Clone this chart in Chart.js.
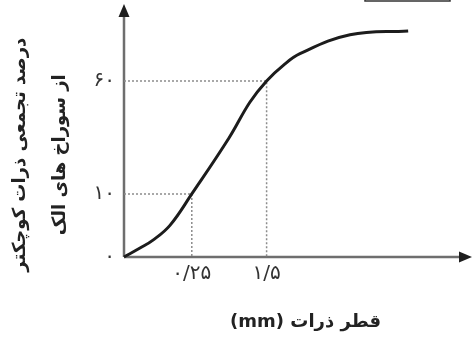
<!DOCTYPE html>
<html>
<head>
<meta charset="utf-8">
<script src="https://cdn.jsdelivr.net/npm/chart.js@4/dist/chart.umd.min.js"></script>
<style>
  html, body { margin: 0; padding: 0; background: #fff; }
  canvas { display: block; }
</style>
</head>
<body>
<canvas id="chart" width="472" height="341" dir="rtl"></canvas>
<script>
// ===== DADOS =====
const diametros = [0, 0.0077, 0.0323, 0.098, 0.25, 0.717, 1.11, 1.5, 1.95, 2.49, 4.55, 7.9];
const percentuais = [0, 0.33, 1.0, 3.0, 10, 30.3, 47.9, 60, 69.4, 77.1, 90, 92.8];

const xTicks = [0.25, 1.5];
const xTickLabels = ['۰/۲۵', '۱/۵'];
const yTicks = [0, 10, 60];
const yTickLabels = ['۰', '۱۰', '۶۰'];

// linhas de referencia (pontilhadas)
const refX = [0.25, 1.5];
const refY = [10, 60];

// espacos extras so para deslocar o titulo
const xTitulo = 'قطر ذرات (mm)    ';
const yTitulo = ['     درصد تجمعی ذرات کوچکتر', '     از سوراخ های الک'];

// ===== ESCALA (potencia) =====
class PowerScale extends Chart.LinearScale {
  getPixelForValue(value) {
    if (value === null || value === undefined || isNaN(value)) return NaN;
    const e = this.options.exponent || 1;
    const lo = Math.pow(this.min, e), hi = Math.pow(this.max, e);
    return this.getPixelForDecimal((Math.pow(Math.max(value, 0), e) - lo) / (hi - lo));
  }
  getValueForPixel(pixel) {
    const e = this.options.exponent || 1;
    const lo = Math.pow(this.min, e), hi = Math.pow(this.max, e);
    return Math.pow(lo + this.getDecimalForPixel(pixel) * (hi - lo), 1 / e);
  }
}
PowerScale.id = 'power';
PowerScale.defaults = Chart.LinearScale.defaults;
Chart.register(PowerScale);

// ===== EIXOS COM SETA =====
const eixosPlugin = {
  id: 'eixos',
  beforeDatasetsDraw(chart) {
    const { ctx, chartArea: a } = chart;
    ctx.save();
    ctx.strokeStyle = '#6e6e6e';
    ctx.fillStyle = '#1e1e1e';
    ctx.lineWidth = 2.5;
    ctx.beginPath();
    ctx.moveTo(a.left, a.bottom);
    ctx.lineTo(a.left, 14);
    ctx.moveTo(a.left, a.bottom);
    ctx.lineTo(463, a.bottom);
    ctx.stroke();
    // seta vertical
    ctx.beginPath();
    ctx.moveTo(a.left, 4);
    ctx.lineTo(a.left - 5.5, 17);
    ctx.lineTo(a.left + 5.5, 17);
    ctx.closePath();
    ctx.fill();
    // seta horizontal
    ctx.beginPath();
    ctx.moveTo(472, a.bottom);
    ctx.lineTo(459, a.bottom - 5.5);
    ctx.lineTo(459, a.bottom + 5.5);
    ctx.closePath();
    ctx.fill();
    // borda cortada no topo
    ctx.strokeStyle = '#333';
    ctx.lineWidth = 1.5;
    ctx.strokeRect(365, -20, 85, 21);
    ctx.restore();
  }
};

const refDatasets = refX.map((rx, i) => ({
  data: [{ x: 0, y: refY[i] }, { x: rx, y: refY[i] }, { x: rx, y: 0 }],
  borderColor: '#8c8c8c',
  borderWidth: 1.5,
  borderDash: [2, 2],
  pointRadius: 0,
  tension: 0,
  fill: false
}));

new Chart(document.getElementById('chart'), {
  type: 'line',
  data: {
    datasets: [
      {
        data: diametros.map((d, i) => ({ x: d, y: percentuais[i] })),
        borderColor: '#1c1c1c',
        borderWidth: 3,
        pointRadius: 0,
        tension: 0.4,
        fill: false,
        clip: false
      },
      ...refDatasets
    ]
  },
  options: {
    responsive: false,
    animation: false,
    devicePixelRatio: 1,
    layout: { padding: { top: 19, right: 10, left: 0, bottom: 0 } },
    plugins: { legend: { display: false }, tooltip: { enabled: false } },
    scales: {
      x: {
        type: 'power',
        exponent: 0.415,
        min: 0,
        max: 12,
        grid: { display: false, drawTicks: false },
        border: { display: false },
        afterBuildTicks: s => { s.ticks = xTicks.map(v => ({ value: v })); },
        afterFit: s => { s.height = 84; },
        ticks: {
          autoSkip: false,
          maxRotation: 0,
          padding: 5,
          color: '#333',
          font: { family: 'DejaVu Sans', size: 20 },
          callback: (v, i) => xTickLabels[i]
        },
        title: {
          display: true,
          text: xTitulo,
          color: '#222',
          font: { family: 'DejaVu Sans', size: 18, weight: 'bold' },
          padding: { top: 0, bottom: 8 }
        }
      },
      y: {
        type: 'power',
        exponent: 0.573,
        min: 0,
        max: 100,
        grid: { display: false, drawTicks: false },
        border: { display: false },
        afterBuildTicks: s => { s.ticks = yTicks.map(v => ({ value: v })); },
        afterFit: s => { s.width = 124; },
        ticks: {
          autoSkip: false,
          padding: 9,
          color: '#333',
          font: { family: 'DejaVu Sans', size: 20 },
          callback: (v, i) => yTickLabels[i]
        },
        title: {
          display: true,
          text: yTitulo,
          color: '#222',
          font: { family: 'DejaVu Sans', size: 18, weight: 'bold', lineHeight: 2.222 },
          padding: { top: 0, bottom: 0 }
        }
      }
    }
  },
  plugins: [eixosPlugin]
});
</script>
</body>
</html>
